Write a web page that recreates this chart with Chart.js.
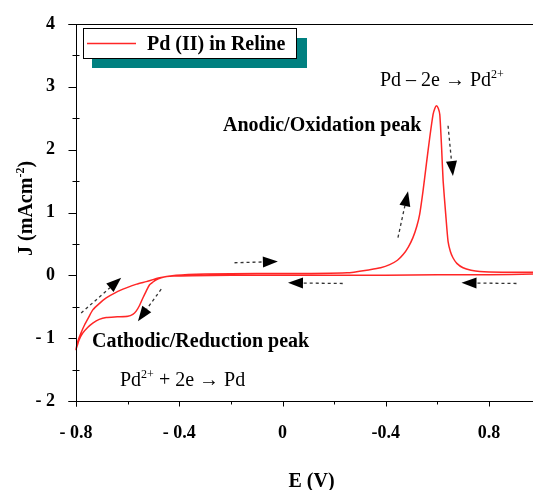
<!DOCTYPE html>
<html>
<head>
<meta charset="utf-8">
<script src="https://cdn.jsdelivr.net/npm/chart.js@4/dist/chart.umd.min.js"></script>
<style>
  html, body { margin: 0; padding: 0; background: #fff; }
  #cv { display: block; }
</style>
</head>
<body>
<canvas id="cv" width="533" height="490"></canvas>
<script>
// potential (V) and current density (mA cm-2), in scan order
const potential = [
  0.97, 0.8, 0.6, 0.4, 0.2, 0.0, -0.2, -0.35, -0.42,
  -0.45, -0.47, -0.489, -0.503, -0.515, -0.528, -0.541, -0.554, -0.567, -0.58,
  -0.599, -0.64, -0.683, -0.71, -0.735, -0.755, -0.774, -0.788, -0.8,
  -0.793, -0.78, -0.767, -0.75, -0.735, -0.71, -0.683, -0.645, -0.605, -0.565,
  -0.528, -0.476, -0.412, -0.3, -0.1, 0.1, 0.25, 0.338, 0.38, 0.415, 0.445,
  0.467, 0.487, 0.505, 0.52, 0.531, 0.544, 0.557, 0.57, 0.583, 0.59, 0.596,
  0.603, 0.609, 0.616, 0.622, 0.632, 0.641, 0.65, 0.66, 0.675, 0.699, 0.73,
  0.764, 0.85, 0.97
];
const current = [
  0.02, 0.01, 0.01, 0.0, 0.0, 0.0, 0.0, -0.005, -0.01,
  -0.02, -0.04, -0.07, -0.11, -0.15, -0.25, -0.36, -0.48, -0.57, -0.62,
  -0.65, -0.66, -0.67, -0.7, -0.76, -0.83, -0.92, -1.03, -1.18,
  -1.05, -0.91, -0.79, -0.66, -0.55, -0.45, -0.36, -0.27, -0.2, -0.14,
  -0.1, -0.04, 0.0, 0.02, 0.03, 0.03, 0.04, 0.09, 0.12, 0.17, 0.24,
  0.33, 0.45, 0.6, 0.78, 0.97, 1.34, 1.77, 2.19, 2.56, 2.66, 2.7,
  2.66, 2.56, 2.03, 1.5, 0.97, 0.54, 0.38, 0.28, 0.19, 0.12, 0.08,
  0.06, 0.05, 0.05
];

const xTickValues = [-0.8, -0.4, 0, 0.4, 0.8];
const xTickLabels = ["- 0.8", "- 0.4", "0", "-0.4", "0.8"];
const xMinorValues = [-0.6, -0.2, 0.2, 0.6];
const yTickValues = [-2, -1, 0, 1, 2, 3, 4];
const yTickLabels = ["- 2", "- 1", "0", "1", "2", "3", "4"];
const yMinorValues = [-1.5, -0.5, 0.5, 1.5, 2.5, 3.5];

const seriesName = "Pd (II) in Reline";

// scan direction arrows: [fromE, fromJ, toE, toJ]
const scanArrows = [
  [-0.78, -0.6, -0.625, -0.04],
  [-0.47, -0.22, -0.56, -0.73],
  [-0.186, 0.2, -0.018, 0.22],
  [0.233, -0.13, 0.021, -0.12],
  [0.906, -0.13, 0.693, -0.12],
  [0.447, 0.6, 0.486, 1.34],
  [0.641, 2.38, 0.66, 1.58],
];

const SERIF = '"Liberation Serif", "DejaVu Serif", serif';
const RED = "#ff2626";

function richText(ctx, parts, x, y, size, bold) {
  let cx = x;
  parts.forEach((p) => {
    const s = p.sup ? Math.round(size * 0.62) : size;
    ctx.font = `${bold ? "bold " : ""}${s}px ${SERIF}`;
    ctx.fillText(p.t, cx, p.sup ? y - size * 0.42 : y);
    cx += ctx.measureText(p.t).width;
  });
  return cx - x;
}

function arrow(ctx, x1, y1, x2, y2) {
  const ang = Math.atan2(y2 - y1, x2 - x1);
  const headLen = 15, headW = 5.5;
  const bx = x2 - headLen * Math.cos(ang);
  const by = y2 - headLen * Math.sin(ang);
  ctx.save();
  ctx.strokeStyle = "#333";
  ctx.lineWidth = 1.3;
  ctx.setLineDash([3, 3]);
  ctx.beginPath();
  ctx.moveTo(x1, y1);
  ctx.lineTo(bx, by);
  ctx.stroke();
  ctx.setLineDash([]);
  ctx.fillStyle = "#000";
  ctx.beginPath();
  ctx.moveTo(x2, y2);
  ctx.lineTo(bx + headW * Math.sin(ang), by - headW * Math.cos(ang));
  ctx.lineTo(bx - headW * Math.sin(ang), by + headW * Math.cos(ang));
  ctx.closePath();
  ctx.fill();
  ctx.restore();
}

const decorations = {
  id: "decorations",
  afterDraw(chart) {
    const { ctx, chartArea: a, scales } = chart;
    const sx = scales.x, sy = scales.y;
    const axX = Math.round(a.left) + 0.5;
    const axY = Math.round(a.bottom) + 0.5;
    const topY = Math.round(a.top) + 0.5;

    ctx.save();
    ctx.strokeStyle = "#000";
    ctx.lineWidth = 1;
    ctx.beginPath();
    // frame: left, bottom, top
    ctx.moveTo(axX, topY); ctx.lineTo(axX, axY + 5);
    ctx.moveTo(axX - 8, axY); ctx.lineTo(a.right, axY);
    ctx.moveTo(axX - 8, topY); ctx.lineTo(a.right, topY);
    xTickValues.forEach((v) => {
      const px = Math.round(sx.getPixelForValue(v)) + 0.5;
      ctx.moveTo(px, axY); ctx.lineTo(px, axY + 5);
    });
    xMinorValues.forEach((v) => {
      const px = Math.round(sx.getPixelForValue(v)) + 0.5;
      ctx.moveTo(px, axY); ctx.lineTo(px, axY + 3);
    });
    yTickValues.forEach((v) => {
      const py = Math.round(sy.getPixelForValue(v)) + 0.5;
      ctx.moveTo(axX - 8, py); ctx.lineTo(axX, py);
    });
    yMinorValues.forEach((v) => {
      const py = Math.round(sy.getPixelForValue(v)) + 0.5;
      ctx.moveTo(axX - 4, py); ctx.lineTo(axX + 3, py);
    });
    ctx.stroke();

    // arrows
    scanArrows.forEach(([e1, j1, e2, j2]) => {
      arrow(ctx, sx.getPixelForValue(e1), sy.getPixelForValue(j1),
        sx.getPixelForValue(e2), sy.getPixelForValue(j2));
    });

    // legend box with teal shadow
    ctx.fillStyle = "#008080";
    ctx.fillRect(92, 38, 215, 30);
    ctx.fillStyle = "#fff";
    ctx.fillRect(83, 28, 214, 31);
    ctx.strokeStyle = "#000";
    ctx.strokeRect(83.5, 28.5, 213, 30);
    ctx.strokeStyle = RED;
    ctx.lineWidth = 1.5;
    ctx.beginPath();
    ctx.moveTo(87, 43.5); ctx.lineTo(136, 43.5);
    ctx.stroke();
    ctx.fillStyle = "#000";
    ctx.textBaseline = "alphabetic";
    ctx.textAlign = "left";
    ctx.font = `bold 20px ${SERIF}`;
    ctx.fillText(seriesName, 147, 50);

    // peak labels and reactions
    ctx.font = `bold 20px ${SERIF}`;
    ctx.fillText("Anodic/Oxidation peak", 223, 131);
    ctx.fillText("Cathodic/Reduction peak", 92, 347);
    richText(ctx, [{ t: "Pd \u2013 2e \u2192 Pd" }, { t: "2+", sup: true }], 380, 86, 20, false);
    richText(ctx, [{ t: "Pd" }, { t: "2+", sup: true }, { t: " + 2e \u2192 Pd" }], 120, 386, 20, false);

    // axis titles
    ctx.font = `bold 20px ${SERIF}`;
    ctx.textAlign = "center";
    ctx.fillText("E (V)", (a.left + a.right) / 2 + 7, 487);

    ctx.save();
    ctx.translate(32, 208);
    ctx.rotate(-Math.PI / 2);
    ctx.textAlign = "left";
    ctx.font = `bold 20px ${SERIF}`;
    const w1 = ctx.measureText("J (mAcm").width;
    ctx.font = `bold 13px ${SERIF}`;
    const w2 = ctx.measureText("-2").width;
    ctx.font = `bold 20px ${SERIF}`;
    const w3 = ctx.measureText(")").width;
    richText(ctx, [{ t: "J (mAcm" }, { t: "-2", sup: true }, { t: ")" }], -(w1 + w2 + w3) / 2, 0, 20, true);
    ctx.restore();

    ctx.restore();
  },
};

const tickFont = { family: SERIF, size: 18, weight: "bold" };

function noPad(s) {
  s.paddingTop = 0;
  s.paddingBottom = 0;
  s.paddingLeft = 0;
  s.paddingRight = 0;
}

new Chart(document.getElementById("cv"), {
  type: "scatter",
  data: {
    datasets: [
      {
        label: seriesName,
        data: potential.map((e, i) => ({ x: e, y: current[i] })),
        showLine: true,
        borderColor: RED,
        borderWidth: 1.5,
        pointRadius: 0,
        tension: 0.2,
        clip: 4,
      },
    ],
  },
  options: {
    responsive: false,
    animation: false,
    devicePixelRatio: 1,
    layout: { padding: { top: 24, right: 0, left: 0, bottom: 0 } },
    plugins: { legend: { display: false }, tooltip: { enabled: false } },
    scales: {
      x: {
        type: "linear",
        min: -0.8,
        max: 0.97,
        afterBuildTicks: (s) => { s.ticks = xTickValues.map((v) => ({ value: v })); },
        afterFit: (s) => { s.height = 89; noPad(s); },
        grid: { display: false, drawTicks: false },
        border: { display: false },
        ticks: {
          autoSkip: false,
          maxRotation: 0,
          padding: 22,
          color: "#000",
          font: tickFont,
          callback: (v) => xTickLabels[xTickValues.indexOf(v)] ?? "",
        },
      },
      y: {
        type: "linear",
        min: -2,
        max: 4,
        afterBuildTicks: (s) => { s.ticks = yTickValues.map((v) => ({ value: v })); },
        afterFit: (s) => { s.width = 76; noPad(s); },
        grid: { display: false, drawTicks: false },
        border: { display: false },
        ticks: {
          padding: 21,
          color: "#000",
          font: tickFont,
          callback: (v) => yTickLabels[yTickValues.indexOf(v)] ?? "",
        },
      },
    },
  },
  plugins: [decorations],
});
</script>
</body>
</html>
